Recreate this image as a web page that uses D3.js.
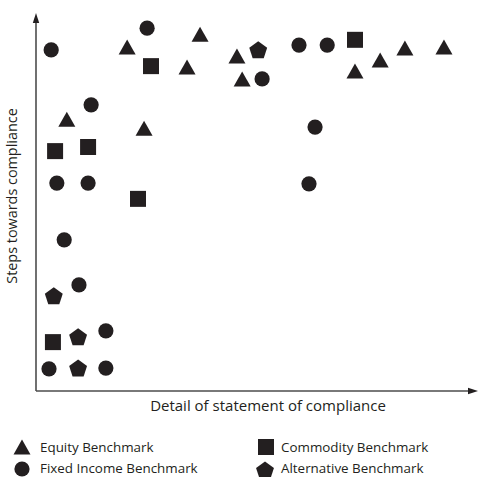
<!DOCTYPE html>
<html><head><meta charset="utf-8">
<script src="https://cdn.jsdelivr.net/npm/d3@7"></script>
<style>body{margin:0;background:#fff}svg{display:block}</style>
</head><body>
<svg id="c" width="479" height="477"></svg>
<script>
const series = ["Equity Benchmark","Fixed Income Benchmark","Commodity Benchmark","Alternative Benchmark"];
const equity = [[21.0,91.5],[37.8,94.9],[34.8,86.2],[46.3,89.1],[47.5,83.0],[24.9,69.9],[7.1,72.3],[73.5,85.1],[79.3,88.0],[85.0,91.2],[94.0,91.5]];
const fixedIncome = [[3.5,90.7],[25.6,96.5],[12.7,76.1],[4.8,55.3],[12.0,55.3],[6.5,40.2],[60.6,92.0],[67.1,92.0],[52.1,83.0],[64.3,70.2],[62.9,55.1],[9.9,28.2],[16.1,16.0],[3.0,5.9],[16.1,6.1]];
const commodity = [[26.5,86.4],[4.4,63.8],[12.0,64.9],[23.5,51.1],[73.5,93.4],[3.9,13.0]];
const alternative = [[51.2,90.7],[4.1,25.3],[9.7,14.4],[9.7,6.1]];
const xTitle = "Detail of statement of compliance";
const yTitle = "Steps towards compliance";

const svg = d3.select("#c");
const x = d3.scaleLinear().domain([0,100]).range([36,470]);
const y = d3.scaleLinear().domain([0,100]).range([391,15]);
const ink = "#231f20", axisCol = "#4d4d4d";

const tri = {draw(ctx,size){const w=17,h=15;ctx.moveTo(0,-h/2);ctx.lineTo(w/2,h/2);ctx.lineTo(-w/2,h/2);ctx.closePath();}};
const pent = {draw(ctx,size){const R=9.4;for(let i=0;i<5;i++){const a=-Math.PI/2+i*2*Math.PI/5;const px=R*Math.cos(a),py=R*Math.sin(a)+0.8;i?ctx.lineTo(px,py):ctx.moveTo(px,py);}ctx.closePath();}};
const shapes = [
  {data:equity, sym:d3.symbol().type(tri)},
  {data:fixedIncome, sym:d3.symbol().type(d3.symbolCircle).size(Math.PI*7.6*7.6)},
  {data:commodity, sym:d3.symbol().type(d3.symbolSquare).size(16*16)},
  {data:alternative, sym:d3.symbol().type(pent)}
];

// axes
svg.append("line").attr("x1",x(0)).attr("x2",x(0)).attr("y1",y(0)).attr("y2",y(100)+8)
  .attr("stroke",axisCol).attr("stroke-width",1.6);
svg.append("line").attr("x1",x(0)).attr("x2",x(100)+2).attr("y1",y(0)).attr("y2",y(0))
  .attr("stroke",axisCol).attr("stroke-width",1.6);
svg.append("path").attr("d",`M${x(0)},${y(100)-2} l-3.2,10 l6.4,0 Z`).attr("fill",ink);
svg.append("path").attr("d",`M${x(100)+8},${y(0)} l-10,-3.2 l0,6.4 Z`).attr("fill",ink);

svg.append("text").attr("x",268).attr("y",411).attr("text-anchor","middle")
  .attr("font-family","Open Sans").attr("font-size",15).attr("fill",ink).text(xTitle);
svg.append("text").attr("transform","translate(17,196) rotate(-90)").attr("text-anchor","middle")
  .attr("font-family","Open Sans").attr("font-size",14.4).attr("fill",ink).text(yTitle);

shapes.forEach(s=>{
  svg.append("g").selectAll("path").data(s.data).join("path")
    .attr("transform",d=>`translate(${x(d[0])},${y(d[1])})`)
    .attr("d",s.sym()).attr("fill",ink);
});

// legend
const legPos = [[22,447],[22,469],[266,447],[265,470]];
const legText = [[40,452],[40,473],[281,452],[281,473]];
series.forEach((name,i)=>{
  const g = svg.append("g");
  g.append("path").attr("transform",`translate(${legPos[i][0]},${legPos[i][1]})`)
    .attr("d",shapes[i].sym()).attr("fill",ink);
  g.append("text").attr("x",legText[i][0]).attr("y",legText[i][1])
    .attr("font-family","Open Sans").attr("font-size",13.4).attr("fill",ink).text(name);
});
</script>
</body></html>
